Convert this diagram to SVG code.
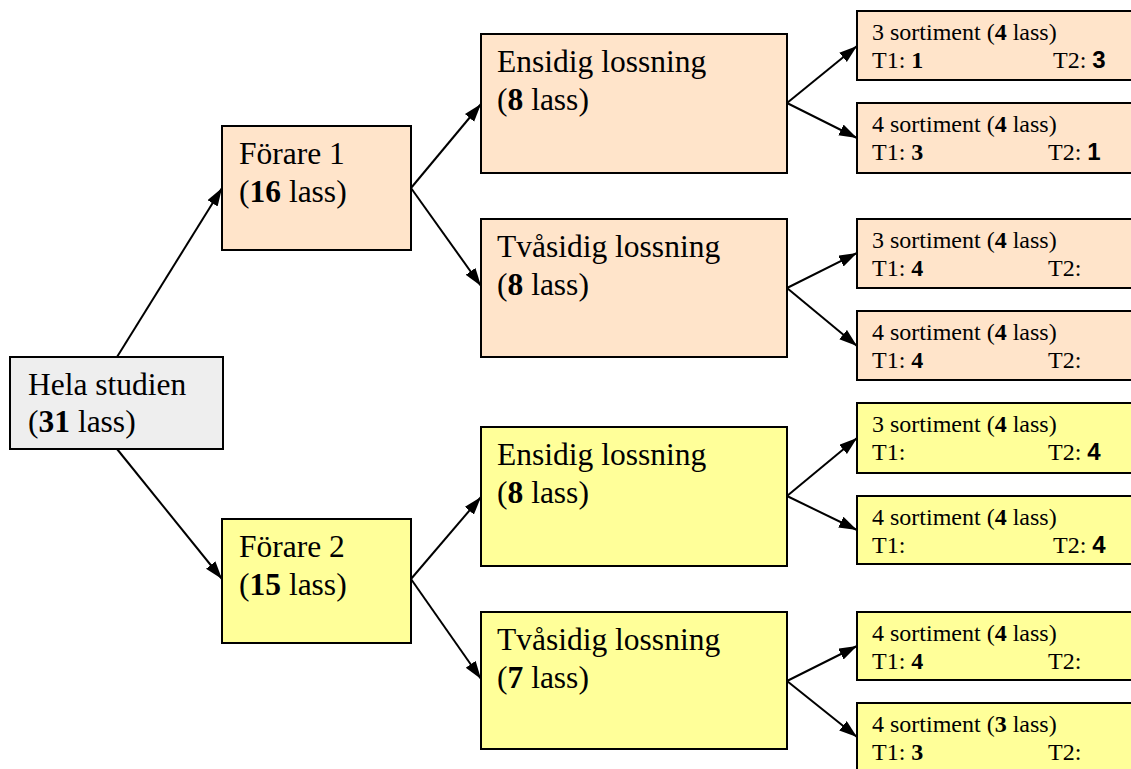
<svg xmlns="http://www.w3.org/2000/svg" width="1131" height="769" viewBox="0 0 1131 769">
<defs>
<marker id="arr" markerUnits="userSpaceOnUse" markerWidth="20" markerHeight="14" refX="18" refY="6" orient="auto">
<path d="M0,0 L18,6 L0,12 Z" fill="#000"/>
</marker>
<style>
.box{stroke:#000;stroke-width:2}
.peach{fill:#FFE4CA}
.yel{fill:#FFFF99}
.gray{fill:#EEEEEE}
.big{font-family:"Liberation Serif","Times New Roman",serif;font-size:31.5px;fill:#000}
.sm{font-family:"Liberation Serif","Times New Roman",serif;font-size:24px;fill:#000}
.b{font-weight:bold}
.bs{font-family:"Liberation Sans",Arial,sans-serif;font-weight:bold}
.con line{stroke:#000;stroke-width:2;marker-end:url(#arr)}
</style>
</defs>
<rect width="1131" height="769" fill="#fff"/>
<g class="con" id="connectors">
<line x1="117" y1="357" x2="222" y2="188"/>
<line x1="117" y1="449" x2="222" y2="579"/>
<line x1="411" y1="188" x2="481" y2="104"/>
<line x1="411" y1="188" x2="481" y2="286"/>
<line x1="411" y1="579" x2="481" y2="497"/>
<line x1="411" y1="579" x2="481" y2="679"/>
<line x1="787" y1="103" x2="857" y2="46"/>
<line x1="787" y1="103" x2="857" y2="138"/>
<line x1="787" y1="288" x2="857" y2="253"/>
<line x1="787" y1="288" x2="857" y2="346"/>
<line x1="787" y1="496" x2="857" y2="438"/>
<line x1="787" y1="496" x2="857" y2="530"/>
<line x1="787" y1="681" x2="857" y2="646"/>
<line x1="787" y1="681" x2="857" y2="737"/>
</g>
<g id="hela">
<rect class="box gray" x="10" y="357" width="213" height="92"/>
<text class="big" x="28" y="395">Hela studien</text>
<text class="big" x="28" y="432">(<tspan class="b">31</tspan> lass)</text>
</g>
<g id="forare1">
<rect class="box peach" x="222" y="126" width="189" height="124"/>
<text class="big" x="239" y="164">Förare 1</text>
<text class="big" x="239" y="202">(<tspan class="b">16</tspan> lass)</text>
</g>
<g id="forare2">
<rect class="box yel" x="222" y="519" width="189" height="124"/>
<text class="big" x="239" y="557">Förare 2</text>
<text class="big" x="239" y="595">(<tspan class="b">15</tspan> lass)</text>
</g>
<g id="ensidig1">
<rect class="box peach" x="481" y="34" width="306" height="139"/>
<text class="big" x="497" y="72">Ensidig lossning</text>
<text class="big" x="497" y="110">(<tspan class="b">8</tspan> lass)</text>
</g>
<g id="tvasidig1">
<rect class="box peach" x="481" y="219" width="306" height="138"/>
<text class="big" x="497" y="257">Tvåsidig lossning</text>
<text class="big" x="497" y="295">(<tspan class="b">8</tspan> lass)</text>
</g>
<g id="ensidig2">
<rect class="box yel" x="481" y="427" width="306" height="139"/>
<text class="big" x="497" y="465">Ensidig lossning</text>
<text class="big" x="497" y="503">(<tspan class="b">8</tspan> lass)</text>
</g>
<g id="tvasidig2">
<rect class="box yel" x="481" y="612" width="306" height="137"/>
<text class="big" x="497" y="650">Tvåsidig lossning</text>
<text class="big" x="497" y="688">(<tspan class="b">7</tspan> lass)</text>
</g>
<g id="s1">
<rect class="box peach" x="857" y="11" width="290" height="69"/>
<text class="sm" x="872" y="40">3 sortiment (<tspan class="b">4</tspan> lass)</text>
<text class="sm" x="872" y="68">T1: <tspan class="b">1</tspan></text>
<text class="sm" x="1053" y="68">T2: <tspan class="bs">3</tspan></text>
</g>
<g id="s2">
<rect class="box peach" x="857" y="103" width="290" height="70"/>
<text class="sm" x="872" y="132">4 sortiment (<tspan class="b">4</tspan> lass)</text>
<text class="sm" x="872" y="160">T1: <tspan class="b">3</tspan></text>
<text class="sm" x="1048" y="160">T2: <tspan class="bs">1</tspan></text>
</g>
<g id="s3">
<rect class="box peach" x="857" y="219" width="290" height="69"/>
<text class="sm" x="872" y="248">3 sortiment (<tspan class="b">4</tspan> lass)</text>
<text class="sm" x="872" y="276">T1: <tspan class="b">4</tspan></text>
<text class="sm" x="1048" y="276">T2:</text>
</g>
<g id="s4">
<rect class="box peach" x="857" y="311" width="290" height="69"/>
<text class="sm" x="872" y="340">4 sortiment (<tspan class="b">4</tspan> lass)</text>
<text class="sm" x="872" y="368">T1: <tspan class="b">4</tspan></text>
<text class="sm" x="1048" y="368">T2:</text>
</g>
<g id="s5">
<rect class="box yel" x="857" y="403" width="290" height="70"/>
<text class="sm" x="872" y="432">3 sortiment (<tspan class="b">4</tspan> lass)</text>
<text class="sm" x="872" y="460">T1:</text>
<text class="sm" x="1048" y="460">T2: <tspan class="bs">4</tspan></text>
</g>
<g id="s6">
<rect class="box yel" x="857" y="496" width="290" height="68"/>
<text class="sm" x="872" y="525">4 sortiment (<tspan class="b">4</tspan> lass)</text>
<text class="sm" x="872" y="553">T1:</text>
<text class="sm" x="1053" y="553">T2: <tspan class="bs">4</tspan></text>
</g>
<g id="s7">
<rect class="box yel" x="857" y="612" width="290" height="68"/>
<text class="sm" x="872" y="641">4 sortiment (<tspan class="b">4</tspan> lass)</text>
<text class="sm" x="872" y="669">T1: <tspan class="b">4</tspan></text>
<text class="sm" x="1048" y="669">T2:</text>
</g>
<g id="s8">
<rect class="box yel" x="857" y="703" width="290" height="80"/>
<text class="sm" x="872" y="732">4 sortiment (<tspan class="b">3</tspan> lass)</text>
<text class="sm" x="872" y="760">T1: <tspan class="b">3</tspan></text>
<text class="sm" x="1048" y="760">T2:</text>
</g>
</svg>
